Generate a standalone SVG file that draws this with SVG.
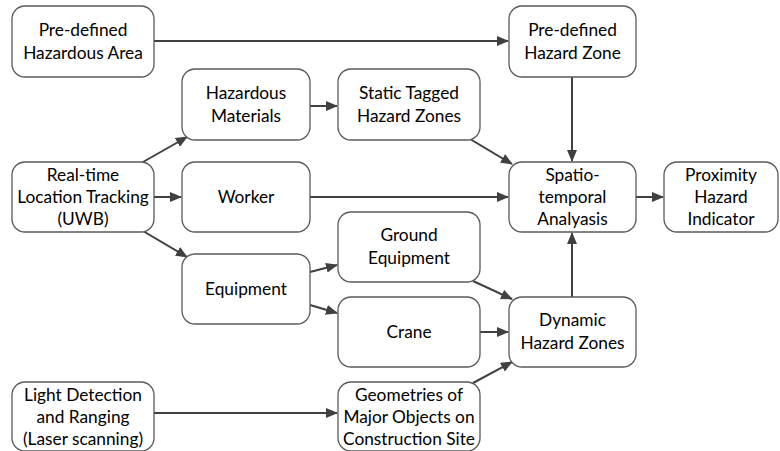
<svg xmlns="http://www.w3.org/2000/svg" width="780" height="451" viewBox="0 0 780 451">
<style>
.box{fill:#fff;stroke:#595959;stroke-width:1.3}
.t{font-family:Lato,"Open Sans",sans-serif;font-size:17.3px;fill:#000;text-anchor:middle}
.c{stroke:#404040;stroke-width:2;fill:none;marker-end:url(#ah)}
</style>
<defs>
<marker id="ah" markerUnits="userSpaceOnUse" markerWidth="12" markerHeight="10" refX="11" refY="5" orient="auto">
<path d="M0,0 L12,5 L0,10 Z" fill="#404040"/>
</marker>
</defs>
<rect width="780" height="451" fill="#fff"/>
<g id="connectors">
<line class="c" x1="154" y1="41" x2="508" y2="41"/>
<line class="c" x1="572" y1="77" x2="572" y2="161"/>
<line class="c" x1="310" y1="106" x2="337" y2="106"/>
<line class="c" x1="470" y1="139" x2="512" y2="164"/>
<line class="c" x1="143" y1="162" x2="187" y2="137"/>
<line class="c" x1="154" y1="197" x2="181" y2="197"/>
<line class="c" x1="143" y1="231" x2="187" y2="257"/>
<line class="c" x1="310" y1="197" x2="508" y2="197"/>
<line class="c" x1="310" y1="272" x2="337" y2="265"/>
<line class="c" x1="310" y1="305" x2="337" y2="313"/>
<line class="c" x1="473" y1="281" x2="512" y2="299"/>
<line class="c" x1="480" y1="332" x2="508" y2="332"/>
<line class="c" x1="572" y1="297" x2="572" y2="233"/>
<line class="c" x1="636" y1="197" x2="663" y2="197"/>
<line class="c" x1="154" y1="413" x2="337" y2="413"/>
<line class="c" x1="473" y1="383" x2="512" y2="362"/>
</g>
<g id="n_hazardous_area"><rect class="box" x="12" y="6" width="142" height="71" rx="13"/><text class="t" x="83" y="36">Pre-defined</text><text class="t" x="83" y="59">Hazardous Area</text></g>
<g id="n_hazard_zone"><rect class="box" x="509" y="6" width="127" height="71" rx="13"/><text class="t" x="572.5" y="36">Pre-defined</text><text class="t" x="572.5" y="59">Hazard Zone</text></g>
<g id="n_materials"><rect class="box" x="182" y="69" width="128" height="71" rx="13"/><text class="t" x="246" y="99">Hazardous</text><text class="t" x="246" y="122">Materials</text></g>
<g id="n_static"><rect class="box" x="338" y="69" width="142" height="71" rx="13"/><text class="t" x="409" y="99">Static Tagged</text><text class="t" x="409" y="122">Hazard Zones</text></g>
<g id="n_rtlt"><rect class="box" x="12" y="162" width="142" height="70" rx="13"/><text class="t" x="83" y="181">Real-time</text><text class="t" x="83" y="203">Location Tracking</text><text class="t" x="83" y="225">(UWB)</text></g>
<g id="n_worker"><rect class="box" x="182" y="162" width="128" height="70" rx="13"/><text class="t" x="246" y="203">Worker</text></g>
<g id="n_spatio"><rect class="box" x="509" y="162" width="127" height="70" rx="13"/><text class="t" x="572.5" y="181">Spatio-</text><text class="t" x="572.5" y="203">temporal</text><text class="t" x="572.5" y="225">Analyasis</text></g>
<g id="n_proximity"><rect class="box" x="664" y="162" width="114" height="70" rx="13"/><text class="t" x="721" y="181">Proximity</text><text class="t" x="721" y="203">Hazard</text><text class="t" x="721" y="225">Indicator</text></g>
<g id="n_equipment"><rect class="box" x="182" y="254" width="128" height="70" rx="13"/><text class="t" x="246" y="295">Equipment</text></g>
<g id="n_ground"><rect class="box" x="338" y="212" width="142" height="70" rx="13"/><text class="t" x="409" y="241">Ground</text><text class="t" x="409" y="264">Equipment</text></g>
<g id="n_crane"><rect class="box" x="338" y="297" width="142" height="70" rx="13"/><text class="t" x="409" y="338">Crane</text></g>
<g id="n_dynamic"><rect class="box" x="509" y="297" width="127" height="70" rx="13"/><text class="t" x="572.5" y="326">Dynamic</text><text class="t" x="572.5" y="349">Hazard Zones</text></g>
<g id="n_lidar"><rect class="box" x="12" y="382" width="142" height="69" rx="13"/><text class="t" x="83" y="401">Light Detection</text><text class="t" x="83" y="423">and Ranging</text><text class="t" x="83" y="445">(Laser scanning)</text></g>
<g id="n_geometries"><rect class="box" x="338" y="382" width="142" height="69" rx="13"/><text class="t" x="409" y="401">Geometries of</text><text class="t" x="409" y="423">Major Objects on</text><text class="t" x="409" y="445">Construction Site</text></g>
</svg>
